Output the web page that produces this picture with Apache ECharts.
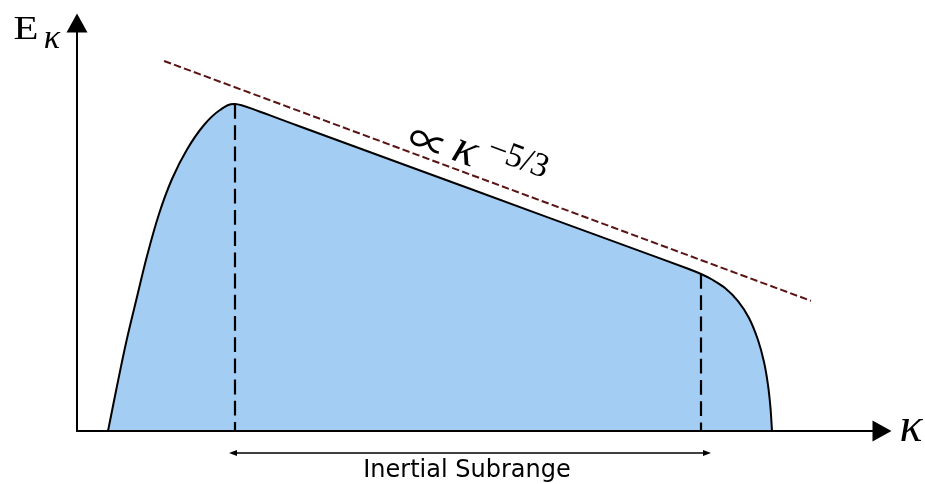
<!DOCTYPE html>
<html>
<head>
<meta charset="utf-8">
<script src="https://cdn.jsdelivr.net/npm/echarts@6/dist/echarts.min.js"></script>
<style>
  html, body { margin: 0; padding: 0; background: #fff; }
  #chart { width: 925px; height: 484px; }
</style>
</head>
<body>
<div id="chart"></div>
<script>
// Energy spectrum sketch: E(k) against wavenumber k (arbitrary units 0-100)
const spectrumK = [3.851, 4.969, 6.087, 7.329, 8.696, 10.186, 11.801, 13.665, 15.776, 17.764, 19.627,
                   22.733, 27.702, 48.820, 72.422, 76.149,
                   77.516, 78.882, 80.497, 82.112, 83.478, 84.596, 85.342, 85.839, 86.149, 86.335];
const spectrumE = [0, 11.03, 21.57, 31.86, 42.89, 53.19, 61.76, 69.0, 75.0, 78.68, 80.15,
                   78.26, 74.63, 59.36, 42.30, 39.58,
                   38.48, 37.13, 35.05, 31.86, 27.70, 22.30, 16.91, 11.27, 5.64, 0];

// Bounds of the inertial subrange (energy peak and dissipation knee)
const rangeK = [19.627, 77.516];
const rangeE = [80.15, 38.48];

// Reference slope line  ~ k^(-5/3)
const slopeK = [10.81, 91.18];
const slopeE = [90.7, 31.9];

// Double arrow under the axis spanning the subrange
const arrowK = [19.38, 78.26];
const arrowE = -5.39;

const chart = echarts.init(document.getElementById('chart'), null, { renderer: 'canvas' });

// Smooth spectrum outline: Catmull-Rom spline through the points, in pixel space
function spectrumRender(params, api) {
  const pts = spectrumK.map((k, i) => api.coord([k, spectrumE[i]]));
  const n = pts.length;
  let d = 'M' + pts[0][0] + ',' + pts[0][1];
  for (let i = 0; i < n - 1; i++) {
    const p0 = pts[Math.max(i - 1, 0)], p1 = pts[i], p2 = pts[i + 1], p3 = pts[Math.min(i + 2, n - 1)];
    const c1x = p1[0] + (p2[0] - p0[0]) / 6, c1y = p1[1] + (p2[1] - p0[1]) / 6;
    const c2x = p2[0] - (p3[0] - p1[0]) / 6, c2y = p2[1] - (p3[1] - p1[1]) / 6;
    d += ' C' + c1x + ',' + c1y + ' ' + c2x + ',' + c2y + ' ' + p2[0] + ',' + p2[1];
  }
  const base = api.coord([0, 0])[1];
  const area = d + ' L' + pts[n - 1][0] + ',' + base + ' L' + pts[0][0] + ',' + base + ' Z';
  return {
    type: 'group',
    children: [
      { type: 'path', shape: { pathData: area }, style: { fill: '#a3cdf3', stroke: null } },
      { type: 'path', shape: { pathData: d }, style: { fill: null, stroke: '#000', lineWidth: 2 } }
    ]
  };
}

const series = [
  {
    type: 'custom',
    coordinateSystem: 'cartesian2d',
    data: [[spectrumK[0], spectrumE[0]]],
    clip: false,
    renderItem: spectrumRender,
    z: 2
  },
  {
    type: 'line',
    data: [[slopeK[0], slopeE[0]], [slopeK[1], slopeE[1]]],
    symbol: 'none',
    lineStyle: { color: '#5a1414', width: 2, type: [7.4, 3.2] },
    z: 3
  }
];

rangeK.forEach((k, i) => {
  series.push({
    type: 'line',
    data: [[k, rangeE[i]], [k, 0]],
    symbol: 'none',
    lineStyle: { color: '#000', width: 2.2, type: [14.8, 6.4] },
    z: 4
  });
});

series.push({
  type: 'line',
  clip: false,
  data: [
    { value: [arrowK[0], arrowE], symbol: 'triangle', symbolSize: [6, 8], symbolRotate: 90 },
    { value: [arrowK[1], arrowE], symbol: 'triangle', symbolSize: [6, 8], symbolRotate: -90 }
  ],
  showSymbol: true,
  itemStyle: { color: '#000' },
  lineStyle: { color: '#000', width: 1.5 },
  z: 4
});

const serif = '"Liberation Serif", serif';
const axisLine = {
  show: true, onZero: false,
  symbol: ['none', 'triangle'], symbolSize: [21, 19],
  lineStyle: { color: '#000', width: 2 }
};

chart.setOption({
  animation: false,
  grid: { left: 77, right: 43, top: 23, bottom: 53 },
  xAxis: {
    type: 'value', min: 0, max: 100, z: 10,
    axisLine: axisLine,
    axisTick: { show: false }, axisLabel: { show: false }, splitLine: { show: false }
  },
  yAxis: {
    type: 'value', min: 0, max: 100, z: 10,
    axisLine: axisLine,
    axisTick: { show: false }, axisLabel: { show: false }, splitLine: { show: false }
  },
  series: series,
  graphic: [
    { type: 'text', x: 26, y: 30, scaleX: 1.2, style: { text: 'E', fontSize: 34, fontFamily: serif, fill: '#000', align: 'center', verticalAlign: 'middle' } },
    { type: 'text', x: 52, y: 39, style: { text: 'κ', fontSize: 34, fontStyle: 'italic', fontFamily: serif, fill: '#000', align: 'center', verticalAlign: 'middle' } },
    { type: 'text', x: 911, y: 428, style: { text: 'κ', fontSize: 48, fontStyle: 'italic', fontFamily: serif, fill: '#000', align: 'center', verticalAlign: 'middle' } },
    {
      type: 'text', x: 467, y: 471,
      style: { text: 'Inertial Subrange', fontSize: 24, fontFamily: '"DejaVu Sans"', fill: '#000', align: 'center', verticalAlign: 'middle' }
    },
    {
      type: 'group', x: 482, y: 152, rotation: -0.356,
      children: [
        { type: 'text', x: -54, y: 9, style: { text: '∝', fontSize: 40, fontFamily: '"Noto Sans CJK JP", "DejaVu Serif"', fill: '#000', align: 'center', verticalAlign: 'middle' } },
        { type: 'text', x: -16, y: 5, style: { text: 'κ', fontSize: 48, fontStyle: 'italic', fontFamily: serif, fill: '#000', align: 'center', verticalAlign: 'middle' } },
        { type: 'text', x: 36, y: -6, style: { text: '−5/3', fontSize: 34, fontFamily: serif, fill: '#000', align: 'center', verticalAlign: 'middle' } }
      ]
    }
  ]
});
</script>
</body>
</html>
